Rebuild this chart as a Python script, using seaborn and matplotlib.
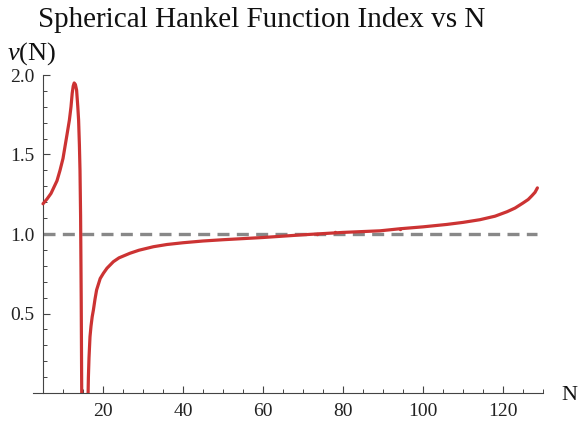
import numpy as np
import pandas as pd
import matplotlib
matplotlib.use("Agg")
import matplotlib.pyplot as plt
import seaborn as sns
from matplotlib.ticker import MultipleLocator

# ---- data ----
n_left = [5.0, 6.0, 7.0, 7.6, 8.5, 9.25, 10.0, 10.5, 11.0, 11.6, 12.0, 12.3, 12.55, 12.8, 13.1,
          13.4, 13.7, 13.9, 14.1, 14.25, 14.4, 14.55, 14.7]
v_left = [1.19, 1.22, 1.255, 1.287, 1.335, 1.40, 1.475, 1.55, 1.625, 1.717, 1.80, 1.885, 1.93, 1.95, 1.94,
          1.905, 1.80, 1.717, 1.56, 1.40, 1.11, 0.60, -0.10]
n_right = [16.2, 16.35, 16.5, 16.75, 17.0, 17.3, 17.6, 18.0, 18.4, 18.8, 19.3, 20.1, 21.0, 22.6, 24.0,
           26.75, 29.0, 32.6, 36.0, 40.0, 45.0, 50.0, 60.0, 70.0, 80.0, 89.25, 94.25, 100.0, 105.9,
           110.0, 114.25, 118.0, 121.0, 123.0, 125.0, 126.3, 127.2, 128.0, 128.6]
v_right = [-0.10, 0.10, 0.22, 0.354, 0.42, 0.48, 0.522, 0.59, 0.648, 0.68, 0.72, 0.753, 0.785, 0.826, 0.85,
           0.879, 0.898, 0.920, 0.934, 0.945, 0.956, 0.964, 0.978, 0.995, 1.010, 1.020, 1.033, 1.045, 1.060,
           1.073, 1.090, 1.112, 1.140, 1.163, 1.195, 1.217, 1.240, 1.262, 1.290]
mark_n = [73.4, 78.0, 94.3]
mark_v = [1.002, 1.010, 1.033]
ref_level = 1.0
x_ticks = [20, 40, 60, 80, 100, 120]
y_ticks = [0.5, 1.0, 1.5, 2.0]
title = "Spherical Hankel Function Index vs N"

sns.set_theme(style="white")
plt.rcParams["font.family"] = ["Liberation Serif", "DejaVu Serif"]
plt.rcParams["mathtext.fontset"] = "custom"
plt.rcParams["mathtext.rm"] = "Liberation Serif"
plt.rcParams["mathtext.it"] = "Liberation Serif:italic"

fig = plt.figure(figsize=(5.79, 4.23), dpi=100)
ax = fig.add_axes([33 / 579, 30 / 423, 510 / 579, 318 / 423])

red = "#CC3333"
left_df = pd.DataFrame({"N": n_left, "v": v_left})
right_df = pd.DataFrame({"N": n_right, "v": v_right})
ref_df = pd.DataFrame({"N": [n_left[0], n_right[-1]], "v": [ref_level, ref_level]})

sns.lineplot(data=ref_df, x="N", y="v", ax=ax, color="#888888", lw=2.4,
             linestyle=(0, (3.6, 2.2)), zorder=2)
sns.lineplot(data=left_df, x="N", y="v", ax=ax, color=red, lw=2.3, sort=False,
             estimator=None, zorder=3)
sns.lineplot(data=right_df, x="N", y="v", ax=ax, color=red, lw=2.3, sort=False,
             estimator=None, zorder=3)
sns.scatterplot(x=mark_n, y=mark_v, ax=ax, color=red, s=6, marker="o", linewidth=0, zorder=4)

ax.set_xlim(2.5, 130)
ax.set_ylim(0, 2.0)
ax.set_xlabel("")
ax.set_ylabel("")

for s in ["top", "right"]:
    ax.spines[s].set_visible(False)
ax.spines["left"].set_position(("data", 5))
for s in ["left", "bottom"]:
    ax.spines[s].set_color("#444444")
    ax.spines[s].set_linewidth(0.8)

ax.set_xticks(x_ticks)
ax.set_yticks(y_ticks)
ax.set_xticklabels([str(t) for t in x_ticks])
ax.set_yticklabels([f"{t:.1f}" for t in y_ticks])
ax.xaxis.set_minor_locator(MultipleLocator(5))
ax.yaxis.set_minor_locator(MultipleLocator(0.1))
ax.tick_params(axis="both", which="major", direction="in", length=5, width=0.8,
               color="#444444", labelsize=14, labelcolor="#222222")
ax.tick_params(axis="both", which="minor", direction="in", length=3, width=0.7,
               color="#444444")
ax.tick_params(axis="y", which="both", left=True, pad=6)
ax.tick_params(axis="x", which="both", bottom=True, pad=7)
ax.grid(False)
ax.set_facecolor("white")

fig.text(261.5 / 579, 1 - 27 / 423, title, ha="center", va="baseline", fontsize=21, color="#111111")
fig.text(7 / 579, 1 - 60 / 423, r"$\nu$(N)", ha="left", va="baseline", fontsize=19, color="#111111")
fig.text(561 / 579, 1 - 400 / 423, "N", ha="left", va="baseline", fontsize=16, color="#111111")

fig.savefig("out.png", dpi=100, facecolor="white")
